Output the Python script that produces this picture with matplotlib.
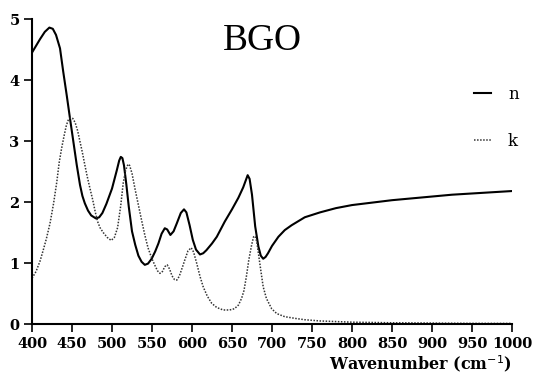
import matplotlib
matplotlib.use("Agg")
import matplotlib.pyplot as plt

# n (refractive index)
n_wn = [400, 405, 410, 416, 421.7, 426, 430, 435, 439, 443.4, 447.5, 451.7, 455.9, 460,
        463, 466, 470, 474, 480, 484, 488, 493, 500, 506, 509, 511, 513, 515, 518, 521,
        525, 529, 533, 537, 541, 545, 549.6, 554, 558, 562, 566, 569, 573, 577, 581,
        586, 590, 593, 597, 601, 605, 610, 614, 618, 625, 631, 641, 650, 658, 664,
        669.6, 672, 675, 679, 683, 686, 689, 692, 695, 700, 708, 716, 724.6, 741,
        760, 780, 800, 825, 850, 875, 900, 925, 950, 975, 1000]
n_val = [4.45, 4.56, 4.67, 4.79, 4.86, 4.84, 4.74, 4.52, 4.14, 3.75, 3.37, 2.99, 2.61, 2.28,
         2.10, 1.98, 1.86, 1.78, 1.73, 1.75, 1.82, 1.97, 2.22, 2.52, 2.68, 2.74, 2.72, 2.60, 2.28, 1.92,
         1.52, 1.30, 1.12, 1.02, 0.97, 0.99, 1.07, 1.19, 1.32, 1.48, 1.57, 1.55, 1.46, 1.52, 1.65,
         1.82, 1.88, 1.83, 1.62, 1.38, 1.22, 1.14, 1.16, 1.21, 1.32, 1.43, 1.68, 1.88, 2.07, 2.24,
         2.44, 2.38, 2.12, 1.60, 1.27, 1.12, 1.07, 1.10, 1.16, 1.28, 1.43, 1.54, 1.62, 1.75,
         1.83, 1.90, 1.95, 1.99, 2.03, 2.06, 2.09, 2.12, 2.14, 2.16, 2.18]

# k (extinction coefficient)
k_wn = [400, 405, 410, 414, 418, 422.5, 427, 431, 434, 437, 440, 443, 445.5, 448, 451, 454,
        457, 460, 463, 466, 469, 472.5, 476, 479, 482, 485, 489, 494, 499, 503, 507, 511,
        514, 517, 520, 522, 525, 529, 533, 537, 541, 545, 549.6, 554, 557, 560, 563, 566,
        569, 572, 575, 578, 581, 584, 588, 591, 595, 599, 602, 606, 610, 614, 619, 624.6,
        631, 639, 647, 653, 658, 662, 665, 668, 671, 674.6, 677, 679, 681, 683, 686, 689,
        693, 699.6, 706, 716, 730, 741, 760, 780, 800, 850, 900, 950, 1000]
k_val = [0.75, 0.86, 1.03, 1.21, 1.40, 1.65, 1.98, 2.33, 2.65, 2.88, 3.08, 3.26, 3.35, 3.38, 3.37, 3.30,
         3.17, 2.99, 2.81, 2.61, 2.42, 2.22, 2.03, 1.84, 1.68, 1.58, 1.50, 1.42, 1.37, 1.42, 1.58, 1.95,
         2.31, 2.52, 2.62, 2.60, 2.47, 2.20, 1.95, 1.70, 1.46, 1.25, 1.08, 0.95, 0.87, 0.83, 0.86, 0.94,
         0.97, 0.90, 0.79, 0.73, 0.72, 0.78, 0.93, 1.05, 1.20, 1.25, 1.18, 0.99, 0.78, 0.61, 0.46, 0.34,
         0.27, 0.23, 0.23, 0.25, 0.31, 0.42, 0.55, 0.78, 1.05, 1.30, 1.43, 1.44, 1.35, 1.16, 0.88, 0.61,
         0.42, 0.25, 0.17, 0.12, 0.09, 0.07, 0.05, 0.04, 0.03, 0.02, 0.015, 0.01, 0.01]

x_ticks = [400, 450, 500, 550, 600, 650, 700, 750, 800, 850, 900, 950, 1000]
y_ticks = [0, 1, 2, 3, 4, 5]

fig = plt.figure(figsize=(5.37, 3.81), dpi=100)
ax = fig.add_axes([0.0596, 0.1496, 0.8938, 0.8004])

ax.plot(n_wn, n_val, color="black", lw=1.5, label="n")
ax.plot(k_wn, k_val, color="#333333", lw=1.1, ls=(0, (1, 1)), label="k")

ax.set_xlim(400, 1000)
ax.set_ylim(0, 5)
ax.set_xticks(x_ticks)
ax.set_yticks(y_ticks)
for s in ["top", "right"]:
    ax.spines[s].set_visible(False)
for s in ["left", "bottom"]:
    ax.spines[s].set_linewidth(1.5)

tickfont = dict(family="DejaVu Serif", weight="bold", size=10.5)
ax.set_xticklabels([str(t) for t in x_ticks], fontdict=tickfont)
ax.set_yticklabels([str(t) for t in y_ticks], fontdict=tickfont)
ax.tick_params(direction="out", length=6, width=1.2, pad=3)

ax.text(1.0, -0.095, "Wavenumber (cm$^{-1}$)", transform=ax.transAxes, ha="right", va="top",
        fontdict=dict(family="DejaVu Serif", weight="bold", size=11.5))

ax.text(0.48, 0.985, "BGO", transform=ax.transAxes, ha="center", va="top",
        fontdict=dict(family="Liberation Serif", size=27))

leg = ax.legend(loc="upper right", bbox_to_anchor=(1.045, 0.83), frameon=False,
                handlelength=1.05, labelspacing=1.8, handletextpad=1.0,
                prop=dict(family="DejaVu Serif", size=12))

fig.savefig("out.png", dpi=100)
